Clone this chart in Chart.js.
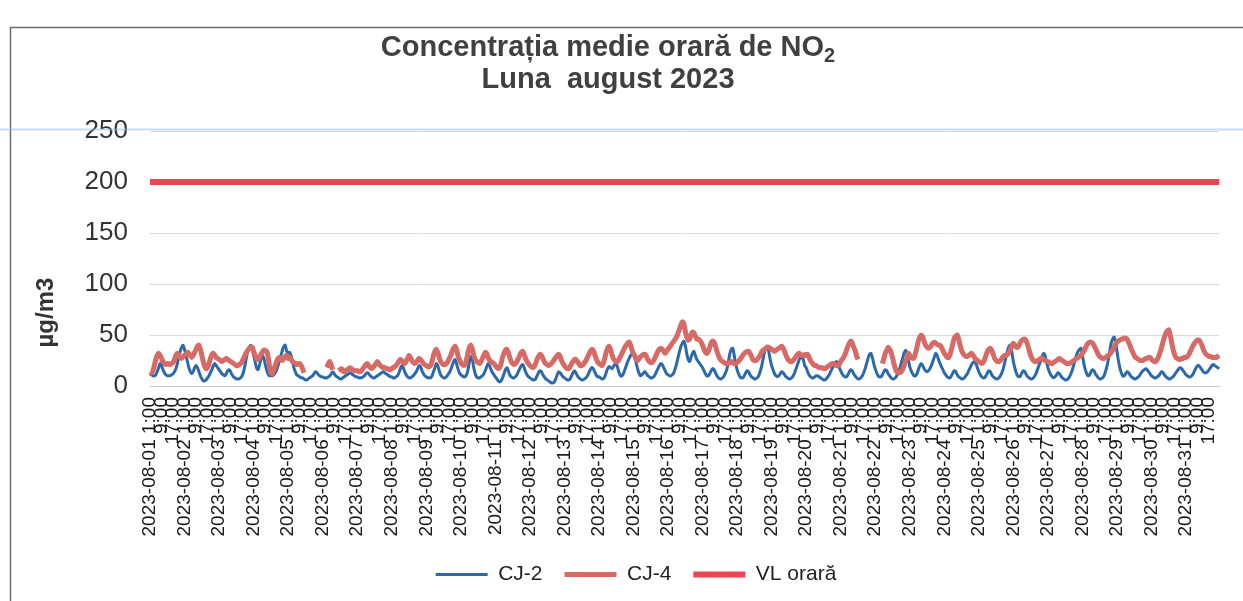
<!DOCTYPE html>
<html><head><meta charset="utf-8">
<script src="https://cdn.jsdelivr.net/npm/chart.js@4.4.1/dist/chart.umd.min.js"></script>
<style>html,body{margin:0;padding:0;background:#fff}#wrap{width:1243px;height:601px}</style>
</head><body><div id="wrap"><canvas id="c" width="1243" height="601"></canvas></div>
<script>
// ---- data ----
const days = ['2023-08-01','2023-08-02','2023-08-03','2023-08-04','2023-08-05','2023-08-06','2023-08-07','2023-08-08','2023-08-09','2023-08-10','2023-08-11','2023-08-12','2023-08-13','2023-08-14','2023-08-15','2023-08-16','2023-08-17','2023-08-18','2023-08-19','2023-08-20','2023-08-21','2023-08-22','2023-08-23','2023-08-24','2023-08-25','2023-08-26','2023-08-27','2023-08-28','2023-08-29','2023-08-30','2023-08-31'];
const hours = ['1:00','2:00','3:00','4:00','5:00','6:00','7:00','8:00','9:00','10:00','11:00','12:00','13:00','14:00','15:00','16:00','17:00','18:00','19:00','20:00','21:00','22:00','23:00','24:00'];
const tickEvery = 8;
const yTicks = [0, 50, 100, 150, 200, 250];
const VL_ORARA = 200;

const cj2 = [
12,11,10,10,11,14,18,22,20,16,13,11,10,10,10,11,12,14,17,22,28,34,38,40,
36,30,24,18,14,12,14,18,20,18,14,10,7,5,5,6,8,10,13,16,20,22,20,18,
16,14,12,11,10,12,15,16,14,11,9,8,7,7,7,8,10,14,20,28,34,38,40,36,
30,24,18,16,20,26,30,28,22,16,12,10,10,10,11,13,16,20,25,30,35,39,40,34,
32,33,30,24,18,14,11,10,9,8,8,7,6,6,7,8,9,10,12,14,13,11,10,9,
9,8,8,8,9,10,12,14,12,10,9,8,7,7,8,9,10,11,12,13,12,11,10,9,
9,8,8,8,9,10,12,13,12,10,9,8,8,9,10,11,12,13,14,13,12,11,10,9,
9,8,8,9,10,13,17,20,18,14,11,9,8,8,9,10,12,14,17,20,19,15,12,10,
9,8,8,8,10,14,18,22,20,15,11,9,8,8,9,11,13,16,20,24,26,22,17,13,
11,10,9,9,11,16,24,29,26,18,12,9,8,8,9,10,12,15,19,22,20,16,13,11,
9,7,5,4,5,8,12,16,18,15,11,9,8,8,9,11,14,17,20,21,18,14,11,9,
8,7,6,6,7,10,13,15,14,11,9,7,6,5,4,3,3,4,7,11,14,13,11,9,
8,7,6,6,7,10,13,15,13,10,8,7,6,6,7,8,10,13,16,18,17,14,11,9,
9,8,7,7,9,13,17,19,18,17,19,21,22,18,13,10,10,12,16,20,24,27,30,32,
32,28,22,16,12,10,11,13,14,12,10,9,8,8,9,11,14,17,20,22,21,18,15,12,
11,10,10,11,13,17,22,28,34,39,42,44,40,32,26,24,28,32,34,30,26,24,22,20,
18,15,12,10,10,12,15,17,16,13,10,8,7,7,8,10,13,17,24,32,36,37,30,22,
16,12,9,8,8,10,13,15,14,11,9,8,7,7,8,10,14,19,26,33,38,39,34,26,
20,16,12,10,9,10,12,14,13,11,9,8,7,7,8,10,13,17,21,25,28,29,26,20,
18,14,11,9,8,8,9,10,10,9,8,7,6,6,7,9,11,14,17,20,22,24,22,18,
15,12,10,9,9,11,14,16,15,12,10,8,7,7,8,10,13,17,22,27,31,32,28,22,
17,13,10,9,9,11,14,16,15,12,10,8,7,7,8,10,13,17,22,27,32,35,33,26,
19,15,12,10,10,12,16,20,22,20,17,15,14,15,17,20,24,28,32,30,26,22,19,16,
13,11,9,8,8,10,13,15,14,11,9,8,7,7,8,10,12,15,18,21,23,24,22,18,
14,11,9,8,8,10,13,15,14,11,9,8,7,7,8,10,13,17,23,29,35,39,40,33,
24,18,13,10,9,10,13,15,14,11,9,8,7,7,8,10,13,17,21,25,29,32,30,24,
18,14,11,9,8,9,11,13,12,10,8,7,6,6,7,9,12,16,21,26,31,34,36,37,
30,22,16,12,10,11,14,16,15,12,10,8,7,7,8,10,14,19,26,34,42,46,48,44,
34,25,18,13,10,10,12,14,13,11,9,8,7,7,8,9,11,13,15,16,17,16,14,12,
10,9,8,8,9,10,12,14,13,11,9,8,7,7,8,9,11,13,15,17,18,17,15,13,
11,10,9,9,10,12,15,18,20,20,18,16,14,13,13,14,16,18,20,21,20,19,18,17
];

const cj4 = [
14,13,15,20,26,30,32,30,27,24,22,21,22,22,21,22,23,26,30,32,30,28,27,29,
30,31,33,32,30,28,30,33,36,39,40,36,30,24,19,17,18,22,27,31,32,30,28,27,
26,25,24,25,26,27,26,25,24,23,22,21,20,20,21,22,24,27,30,33,35,37,38,38,
34,30,27,26,28,31,33,35,35,34,30,20,13,12,16,20,24,27,28,26,25,27,29,30,
27,28,26,24,23,22,21,22,22,20,17,13,null,null,null,null,null,null,null,null,null,null,null,null,
null,null,null,18,22,24,20,16,null,null,null,15,16,17,15,14,15,16,17,18,17,16,15,15,
15,14,14,15,17,19,21,22,20,18,17,18,20,22,24,22,20,19,18,18,17,17,16,16,
17,18,19,20,22,24,26,25,23,22,24,27,30,28,25,23,22,23,25,27,26,24,22,21,
20,19,19,20,24,30,34,36,33,28,24,22,21,21,22,24,27,30,34,37,39,36,30,26,
23,21,20,21,26,33,38,40,36,30,26,24,23,22,24,27,30,33,32,28,25,24,23,22,
20,18,17,18,22,28,32,35,36,33,28,24,22,21,22,24,27,30,33,34,31,27,24,22,
20,19,18,19,22,26,29,31,30,27,24,22,21,20,21,22,24,26,28,30,31,29,25,22,
20,18,17,17,19,22,24,26,26,24,22,20,20,21,23,25,28,31,34,36,35,31,27,24,
22,21,20,22,27,33,37,39,36,31,27,25,24,24,26,29,32,35,38,40,42,43,40,35,
32,29,26,25,27,29,30,31,31,29,26,24,23,23,25,28,31,34,36,37,36,34,32,34,
36,38,40,42,44,46,48,52,56,60,63,61,54,48,45,46,50,53,52,49,46,46,45,43,
40,36,33,32,34,38,42,44,43,39,34,30,27,25,24,23,22,22,22,23,24,23,22,22,
23,24,26,28,30,32,33,34,34,32,29,26,25,25,26,28,30,33,35,36,37,38,38,37,
36,35,34,35,36,37,38,39,37,34,30,27,25,24,24,25,27,29,31,32,31,30,30,31,
30,31,28,25,23,21,20,20,19,18,18,18,17,17,18,19,20,21,22,22,21,20,20,21,
24,26,28,31,35,39,42,44,42,38,35,30,26,null,null,null,null,null,null,null,null,null,null,null,
null,null,null,null,null,22,27,32,35,38,36,33,28,22,17,14,13,13,14,16,20,24,28,32,
30,28,27,28,32,38,44,48,50,48,44,40,38,37,38,40,42,43,42,41,40,40,38,35,
32,30,28,28,31,36,42,47,49,50,46,40,35,32,30,29,29,30,31,32,30,28,26,25,
24,23,22,23,26,30,34,36,37,35,31,27,25,24,24,25,27,29,30,30,31,33,36,40,
42,40,38,38,40,43,45,46,46,44,40,35,30,27,25,24,24,25,26,27,27,26,25,24,
24,23,22,22,23,24,25,26,27,26,25,24,23,22,22,22,23,24,25,26,27,28,29,30,
32,34,37,40,42,43,43,42,40,37,34,31,29,28,27,27,28,29,30,31,33,35,38,41,
43,44,45,46,46,47,47,46,43,40,36,33,30,28,27,26,25,25,25,26,27,27,28,28,
26,25,24,24,26,29,33,38,43,48,52,54,55,50,43,36,31,28,27,26,26,27,27,28,
28,29,31,34,37,40,42,44,45,45,43,40,36,33,31,30,29,29,28,28,28,28,29,30
];

// ---- categories (one per hour) ----
const categories = [];
days.forEach(d => hours.forEach(h => categories.push(d + ' ' + h)));

function tickLabel(i) {
  if (i % tickEvery !== 0) return null;
  const d = days[Math.floor(i / 24)], h = hours[i % 24];
  return (i % 24 === 0) ? d + ' ' + h : h;
}

const FONT = "'Liberation Sans', Arial, sans-serif";

const decor = {
  id: 'decor',
  beforeDraw(chart) {
    const ctx = chart.ctx;
    ctx.save();
    ctx.fillStyle = '#fff';
    ctx.fillRect(0, 0, chart.width, chart.height);
    ctx.strokeStyle = '#6b6b6b';
    ctx.lineWidth = 1.5;
    ctx.beginPath();
    ctx.moveTo(10.5, chart.height);
    ctx.lineTo(10.5, 27.5);
    ctx.lineTo(chart.width, 27.5);
    ctx.stroke();
    ctx.restore();
  },
  afterDraw(chart) {
    const ctx = chart.ctx;
    ctx.save();
    // title
    ctx.fillStyle = '#404040';
    ctx.textBaseline = 'alphabetic';
    const t1 = 'Concentrația medie orară de NO';
    ctx.font = "bold 20px " + FONT;
    const subW = ctx.measureText('2').width;
    ctx.font = "bold 29px " + FONT;
    const w1 = ctx.measureText(t1).width + subW;
    const cx = 608;
    ctx.textAlign = 'left';
    ctx.fillText(t1, cx - w1 / 2, 56);
    ctx.font = "bold 20px " + FONT;
    ctx.fillText('2', cx - w1 / 2 + w1 - subW, 62);
    ctx.font = "bold 29px " + FONT;
    ctx.textAlign = 'center';
    ctx.fillText('Luna  august 2023', cx, 88);
    // y-axis title
    const ys = chart.scales.y;
    ctx.translate(46, ys.getPixelForValue(72));
    ctx.rotate(-Math.PI / 2);
    ctx.font = "bold 24px " + FONT;
    ctx.fillStyle = '#333';
    ctx.textBaseline = 'middle';
    ctx.fillText('µg/m3', 0, 0);
    ctx.restore();
    // faint scan line
    ctx.save();
    ctx.strokeStyle = 'rgba(150,195,235,0.55)';
    ctx.lineWidth = 2;
    ctx.beginPath();
    ctx.moveTo(0, 129.5);
    ctx.lineTo(chart.width, 129.5);
    ctx.stroke();
    ctx.restore();
  }
};

new Chart(document.getElementById('c'), {
  type: 'line',
  data: {
    labels: categories,
    datasets: [
      { label: 'CJ-2', data: cj2, borderColor: '#2b69ab', backgroundColor: '#2b69ab', borderWidth: 3, pointRadius: 0, tension: 0.25, order: 1, spanGaps: false },
      { label: 'CJ-4', data: cj4, borderColor: '#d86a66', backgroundColor: '#d86a66', borderWidth: 5, pointRadius: 0, tension: 0.25, order: 0, spanGaps: false },
      { label: 'VL orară', data: [{x: categories[0], y: VL_ORARA}, {x: categories[categories.length - 1], y: VL_ORARA}], borderColor: '#ec4450', backgroundColor: '#ec4450', borderWidth: 6, pointRadius: 0, order: 2 }
    ]
  },
  options: {
    responsive: false,
    animation: false,
    devicePixelRatio: 1,
    layout: { padding: { left: 46, right: 17, top: 131, bottom: 6 } },
    plugins: {
      title: { display: false },
      tooltip: { enabled: false },
      legend: {
        position: 'bottom',
        labels: {
          usePointStyle: true, pointStyle: 'line', pointStyleWidth: 52,
          padding: 22, color: '#222',
          font: { family: FONT, size: 21 },
          sort: (a, b) => a.datasetIndex - b.datasetIndex
        }
      }
    },
    scales: {
      x: {
        type: 'category',
        offset: false,
        grid: { display: false, drawTicks: false },
        border: { display: true, color: '#c8c8c8', width: 1 },
        ticks: {
          autoSkip: false, minRotation: 90, maxRotation: 90, padding: 11,
          color: '#1a1a1a', font: { family: FONT, size: 19 },
          callback: (v, i) => tickLabel(i)
        },
        afterFit: s => { s.height = 156; }
      },
      y: {
        min: yTicks[0], max: yTicks[yTicks.length - 1],
        afterBuildTicks: s => { s.ticks = yTicks.map(v => ({ value: v })); },
        grid: { color: '#d9d9d9', lineWidth: 1, drawTicks: false },
        border: { display: false },
        ticks: { padding: 22, color: '#333', font: { family: FONT, size: 26 } },
        afterFit: s => { s.width = 104; }
      }
    }
  },
  plugins: [decor]
});
</script></body></html>
